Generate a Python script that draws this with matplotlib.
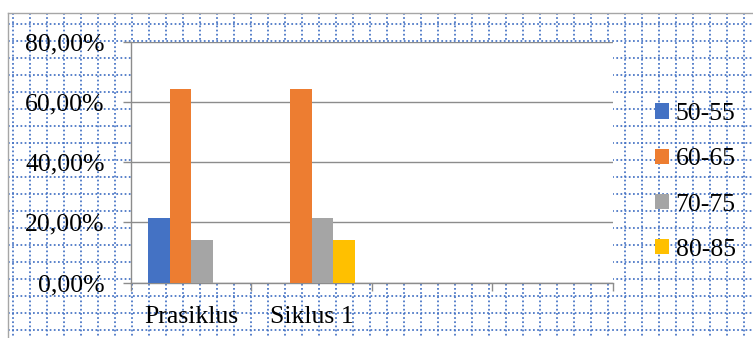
import numpy as np
import matplotlib
matplotlib.use("Agg")
import matplotlib.pyplot as plt
from matplotlib.patches import Patch

# ---- data ----
categories = ["Prasiklus", "Siklus 1", "", ""]
series_names = ["50-55", "60-65", "70-75", "80-85"]
v50_55 = [0.2143, 0.0, 0.0, 0.0]
v60_65 = [0.6429, 0.6429, 0.0, 0.0]
v70_75 = [0.1429, 0.2143, 0.0, 0.0]
v80_85 = [0.0, 0.1429, 0.0, 0.0]
yticks = [0.0, 0.2, 0.4, 0.6, 0.8]
ytick_labels = ["0,00%", "20,00%", "40,00%", "60,00%", "80,00%"]

colors = ["#4472C4", "#ED7D31", "#A5A5A5", "#FFC000"]
series_values = [v50_55, v60_65, v70_75, v80_85]

W, H = 753, 338
fig = plt.figure(figsize=(W / 100, H / 100), dpi=100)
fig.patch.set_facecolor("white")
plt.rcParams["font.family"] = ["Liberation Serif", "DejaVu Serif"]
FS = 18.5

# ---- background: dotted page grid ----
bg = fig.add_axes([0, 0, 1, 1], zorder=0)
bg.set_xlim(0, W)
bg.set_ylim(H, 0)
bg.axis("off")
grid_color = "#4472C4"
dot = (0, (1.0, 1.4))
for x in np.arange(12.7, W, 17.0):
    bg.plot([x, x], [13.3, H], color=grid_color, lw=1.25, ls=dot)
for y in np.arange(24.0, H, 17.0):
    bg.plot([8.5, W], [y, y], color=grid_color, lw=1.25, ls=dot)
bg.plot([8.5, W], [13.3, 13.3], color="#a6a6a6", lw=1.0)
bg.plot([8.5, 8.5], [13.3, H], color="#a6a6a6", lw=1.0)

# ---- main plot ----
left, right, top, bottom = 131.0, 612.5, 42.3, 282.5
ax = fig.add_axes([left / W, (H - bottom) / H, (right - left) / W, (bottom - top) / H], zorder=2)
ax.set_facecolor("white")

n = len(series_values)
x = np.arange(len(categories))
bw = 0.179
for i, (vals, c, name) in enumerate(zip(series_values, colors, series_names)):
    ax.bar(x + (i - (n - 1) / 2) * bw, vals, width=bw, color=c, linewidth=0, zorder=3, label=name)

ax.set_xlim(-0.5, len(categories) - 0.5)
ax.set_ylim(0, 0.8)
ax.set_yticks(yticks)
ax.set_yticklabels(ytick_labels, fontsize=FS)
ax.set_xticks(x)
ax.set_xticklabels(categories, fontsize=FS)
ax.set_xticks(np.arange(-0.5, len(categories), 1.0), minor=True)
ax.tick_params(axis="x", which="major", length=0, pad=17)
ax.tick_params(axis="x", which="minor", length=6, width=1.0, color="#8c8c8c")
ax.tick_params(axis="y", length=6, width=1.0, color="#8c8c8c", pad=13)
ax.yaxis.grid(True, color="#8c8c8c", lw=1.0, zorder=1)
ax.set_axisbelow(True)
for s in ["top", "right"]:
    ax.spines[s].set_visible(False)
for s in ["left", "bottom"]:
    ax.spines[s].set_color("#8c8c8c")
    ax.spines[s].set_linewidth(1.0)

handles = [Patch(facecolor=c, edgecolor="none") for c in colors]
fig.legend(handles, series_names, loc="center left",
           bbox_to_anchor=(655 / W, 1 - 182 / H), frameon=False, fontsize=FS,
           handlelength=0.55, handleheight=0.55, handletextpad=0.25,
           labelspacing=0.9, borderpad=0, borderaxespad=0)

fig.savefig("out.png", dpi=100, facecolor="white")
